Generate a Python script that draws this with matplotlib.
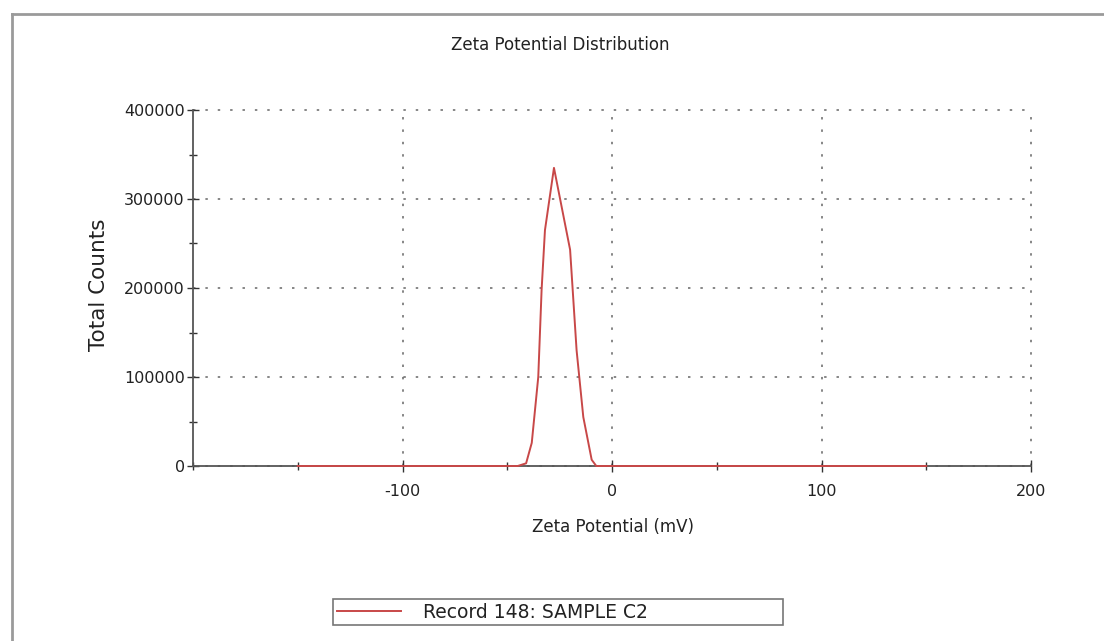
import matplotlib
matplotlib.use("Agg")
import matplotlib.pyplot as plt
from matplotlib.lines import Line2D
from matplotlib.ticker import MultipleLocator

plt.rcParams['font.family'] = ['DejaVu Sans']
plt.rcParams['axes.unicode_minus'] = False

# Zeta potential distribution (mV vs total counts)
zeta_mv = [-150, -45, -41, -38.3, -35.2, -33.6, -32, -27.7, -20, -16.9, -13.7, -9.7, -7.5, 150]
total_counts = [0, 0, 3000, 26000, 100000, 198000, 265000, 335000, 243000, 130000, 55000, 7000, 0, 0]

x_ticks = [-100, 0, 100, 200]
y_ticks = [0, 100000, 200000, 300000, 400000]

title = "Zeta Potential Distribution"
x_label = "Zeta Potential (mV)"
y_label = "Total Counts"
series_label = "Record 148: SAMPLE C2"

W, H = 1104, 641
fig = plt.figure(figsize=(W / 100, H / 100), dpi=100)

# outer panel border (top and left edges visible)
fig.add_artist(Line2D([12 / W, 12 / W], [0, 1 - 14 / H], color="#9a9a9a", lw=2.0))
fig.add_artist(Line2D([12 / W, 1], [1 - 14 / H, 1 - 14 / H], color="#9a9a9a", lw=2.0))

ax = fig.add_axes([193 / W, 1 - 466 / H, (1031 - 193) / W, (466 - 110) / H])
ax.set_xlim(-200, 200)
ax.set_ylim(0, 400000)

for s in ("top", "right"):
    ax.spines[s].set_visible(False)
for s in ("left", "bottom"):
    ax.spines[s].set_color("#555555")
    ax.spines[s].set_linewidth(1.3)

ax.set_xticks(x_ticks)
ax.set_yticks(y_ticks)
ax.set_xticklabels([str(v) for v in x_ticks])
ax.set_yticklabels([str(v) for v in y_ticks])
ax.xaxis.set_minor_locator(MultipleLocator(50))
ax.yaxis.set_minor_locator(MultipleLocator(50000))
ax.tick_params(which="both", direction="inout", color="#333333", width=1.0,
               labelsize=11.5, labelcolor="#222222")
ax.tick_params(which="major", length=8)
ax.tick_params(which="minor", length=6)
ax.tick_params(axis="x", which="major", pad=9)
ax.tick_params(axis="y", which="major", pad=2)

ax.grid(True, which="major", linestyle=(0, (1.6, 6.5)), color="#666666", linewidth=1.1)
for gl in ax.get_xgridlines() + ax.get_ygridlines():
    gl.set_clip_on(False)
ax.set_axisbelow(True)

line, = ax.plot(zeta_mv, total_counts, color="#c84848", lw=1.4, label=series_label,
                zorder=3, clip_on=False)

fig.text(560 / W, 1 - 45 / H, title, ha="center", va="center", fontsize=12, color="#222222")
fig.text(613 / W, 1 - 527 / H, x_label, ha="center", va="center", fontsize=12, color="#222222")
fig.text(99 / W, 1 - 285 / H, y_label, ha="center", va="center", rotation=90,
         fontsize=15.5, color="#222222")

leg = fig.legend(handles=[line], loc="center", mode="expand",
                 bbox_to_anchor=(333 / W, 1 - 628 / H, (783 - 333) / W, 32 / H),
                 bbox_transform=fig.transFigure,
                 frameon=True, fancybox=False, fontsize=13.5, handlelength=3.4,
                 handletextpad=1.2, borderpad=0.2, borderaxespad=0)
leg.get_frame().set_edgecolor("#555555")
leg.get_frame().set_linewidth(1.2)
for t in leg.get_texts():
    t.set_color("#222222")

fig.savefig("out.png", dpi=100)
